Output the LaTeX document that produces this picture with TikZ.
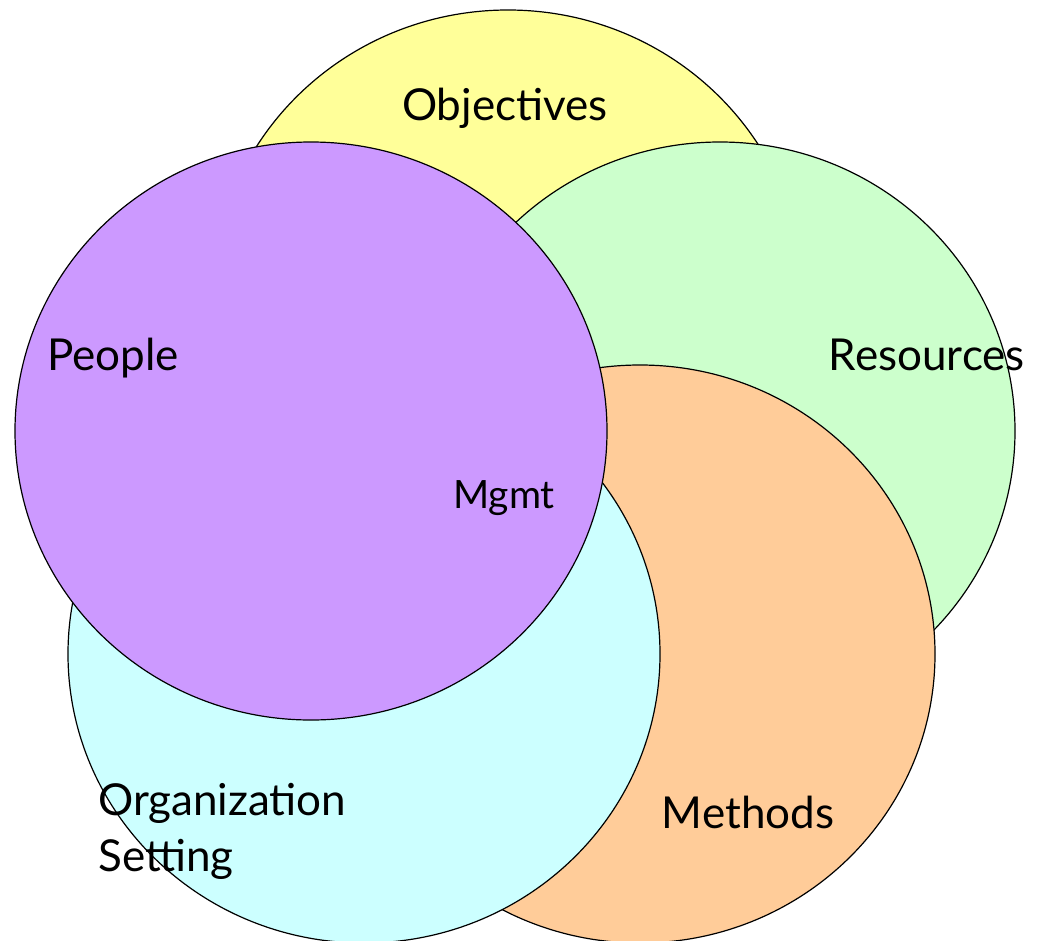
\documentclass[tikz,border=0pt]{standalone}
\usepackage{fontspec}
\setmainfont{Lato}
\usepackage{tikz}
\definecolor{objcol}{HTML}{FFFF99}
\definecolor{rescol}{HTML}{CCFFCC}
\definecolor{metcol}{HTML}{FFCC99}
\definecolor{orgcol}{HTML}{CCFFFF}
\definecolor{peocol}{HTML}{CC99FF}
\tikzset{
  blob/.style = {draw = black, line width = 1.2pt},
  biglabel/.style = {font = \fontsize{44}{56}\selectfont, inner sep = 0pt},
  smalllabel/.style = {font = \fontsize{39}{44}\selectfont, inner sep = 0pt}
}
\begin{document}
\begin{tikzpicture}[x = 1pt, y = -1pt]
  \useasboundingbox (0, 0) rectangle (1046, 940);
  \begin{scope}
  \clip (0, 0) rectangle (1046, 940);
  \filldraw[blob, fill = objcol] (508, 299) ellipse [x radius = 296pt, y radius = 289pt];
  \filldraw[blob, fill = rescol] (720, 431) ellipse [x radius = 295pt, y radius = 289pt];
  \filldraw[blob, fill = metcol] (640, 654) ellipse [x radius = 295pt, y radius = 289pt];
  \filldraw[blob, fill = orgcol] (364, 654) ellipse [x radius = 296pt, y radius = 289pt];
  \filldraw[blob, fill = peocol] (311, 431) ellipse [x radius = 296pt, y radius = 289pt];
  \end{scope}
\node[biglabel, anchor = base] (obj) at (505, 120) {Objectives};
\node[biglabel, anchor = base east] (res) at (1025, 370) {Resources};
\node[biglabel, anchor = base west] (peo) at (47, 370) {People};
\node[smalllabel, anchor = base] (mgmt) at (504, 508) {Mgmt};
\node[biglabel, anchor = base] (met) at (748, 828) {Methods};
\node[biglabel, anchor = base west, align = left] (org) at (98, 871) {Organization\\Setting};
\end{tikzpicture}
\end{document}
